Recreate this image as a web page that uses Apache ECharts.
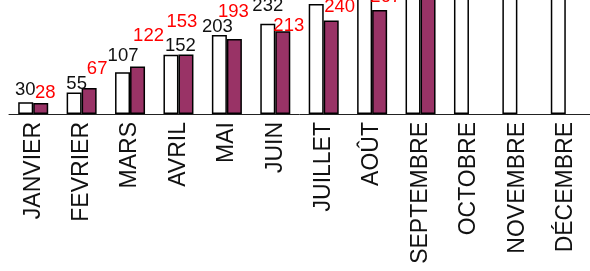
<!DOCTYPE html>
<html>
<head>
<meta charset="utf-8">
<script src="https://cdn.jsdelivr.net/npm/echarts@6/dist/echarts.min.js"></script>
<style>
  html, body { margin: 0; padding: 0; background: #fff; }
  #chart { width: 590px; height: 271px; }
</style>
</head>
<body>
<div id="chart"></div>
<script>
    // mois (axe des catégories)
    const months = ['JANVIER', 'FEVRIER', 'MARS', 'AVRIL', 'MAI', 'JUIN', 'JUILLET', 'AOÛT', 'SEPTEMBRE', 'OCTOBRE', 'NOVEMBRE', 'DÉCEMBRE'];
    // barres blanches (année précédente), les dernières sortent du cadre en haut
    const previousYear = [30, 55, 107, 152, 203, 232, 283, 313, 340, 370, 395, 420];
    // barres violettes (année en cours)
    const currentYear = [28, 67, 122, 153, 193, 213, 240, 267, 300, null, null, null];

    // décalage des étiquettes placées à la main dans l'original [dx, dy]
    const blackShift = [[-0.5, -3], [2.5, 1], [0.5, -7], [9.5, 1], [-2, 1], [0, -8], [0, -8], [0, 0], [0, 0], [0, 0], [0, 0], [0, 0]];
    const redShift = [[4.5, -1], [8, -10], [11, -21], [-4, -23], [-1, -18], [6, 4], [8.5, -4], [6, -4], [0, 0], [0, 0], [0, 0], [0, 0]];

    let myChart = echarts.init(document.getElementById('chart'));

    let labelBase = {
        show: true,
        position: 'top',
        distance: 0,
        fontFamily: 'Liberation Sans, Arial, sans-serif',
        fontSize: 18.5
    };

    let option = {
        backgroundColor: '#fff',
        animation: false,
        // le haut du graphique est coupé : les barres dépassent le cadre
        grid: { left: 9, right: 0, top: 0, bottom: 157 },
        xAxis: {
            type: 'category',
            data: months,
            axisLine: { lineStyle: { color: '#222', width: 1 } },
            axisTick: { length: 6, lineStyle: { color: '#666' } },
            axisLabel: {
                rotate: 90,
                interval: 0,
                margin: 8,
                color: '#111',
                fontFamily: 'Liberation Sans, Arial, sans-serif',
                fontSize: 23
            }
        },
        yAxis: {
            type: 'value',
            min: 0,
            max: 293,
            show: false,
            splitLine: { show: false }
        },
        series: [
            {
                type: 'bar',
                barWidth: 15,
                barGap: '0%',
                clip: false,
                itemStyle: { color: '#fff', borderColor: '#000', borderWidth: 1.5 },
                label: Object.assign({}, labelBase, { color: '#111' }),
                data: previousYear.map((v, i) => ({ value: v, label: { offset: blackShift[i] } }))
            },
            {
                type: 'bar',
                barWidth: 15,
                clip: false,
                itemStyle: { color: '#993366', borderColor: '#000', borderWidth: 1.5 },
                label: Object.assign({}, labelBase, { color: '#ff0000' }),
                data: currentYear.map((v, i) => ({ value: v, label: { offset: redShift[i] } }))
            }
        ]
    };

    myChart.setOption(option);
</script>
</body>
</html>
